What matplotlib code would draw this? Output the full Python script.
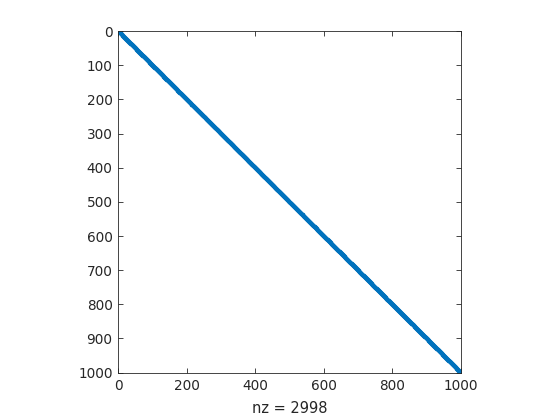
import matplotlib
matplotlib.use("Agg")
import matplotlib.pyplot as plt
import numpy as np

# tridiagonal 1000x1000 sparsity pattern
n = 1000
diag_offsets = [-1, 0, 1]
xticks = [0, 200, 400, 600, 800, 1000]
yticks = [0, 100, 200, 300, 400, 500, 600, 700, 800, 900, 1000]

A = np.zeros((n, n))
for k in diag_offsets:
    A += np.diag(np.ones(n - abs(k)), k)
rows, cols = np.nonzero(A)
nz = len(rows)

fig = plt.figure(figsize=(5.6, 4.2), dpi=100)
ax = fig.add_axes([0.211, 0.112, 0.6125, 0.814])

ax.plot(cols + 1, rows + 1, ".", color="#0072BD", markersize=5, markeredgewidth=0)
ax.set_xlim(0, n + 1)
ax.set_ylim(n + 1, 0)
ax.set_xticks(xticks)
ax.set_yticks(yticks)
ax.tick_params(direction="in", top=True, right=True, length=3.5, width=0.6,
               labelsize=9.8, colors="#262626", pad=4)
for s in ax.spines.values():
    s.set_linewidth(0.6)
    s.set_color("#262626")
ax.set_xlabel(f"nz = {nz}", fontsize=10.5, color="#262626", labelpad=6)

fig.savefig("out.png", dpi=100)
